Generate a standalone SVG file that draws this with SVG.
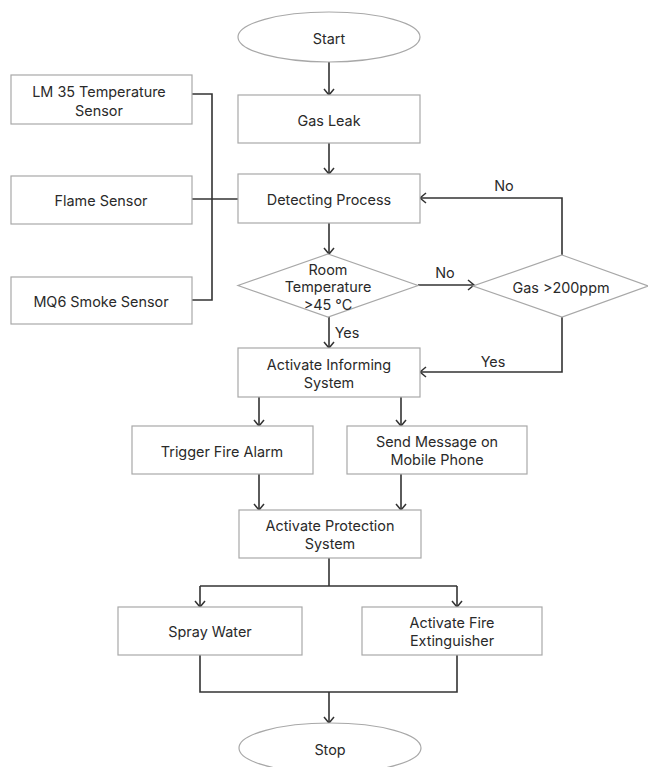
<svg xmlns="http://www.w3.org/2000/svg" width="648" height="767" viewBox="0 0 648 767">
<style>
.box{fill:#fff;stroke:#a8a8a8;stroke-width:1.2}
.t{font-family:Inter,"Liberation Sans",sans-serif;font-size:14.4px;fill:#2a2a2a;text-anchor:middle;dominant-baseline:central}
.c{fill:none;stroke:#333;stroke-width:1.6}
.a{marker-end:url(#arr)}
</style>
<defs>
<marker id="arr" markerWidth="12" markerHeight="12" refX="10" refY="6" orient="auto" markerUnits="userSpaceOnUse">
<path d="M4,1 L10,6 L4,11" fill="none" stroke="#333" stroke-width="1.5"/>
</marker>
</defs>
<rect width="648" height="767" fill="#fff"/>
<g id="connectors">
<path class="c a" d="M329,62 V95"/>
<path class="c a" d="M329,143 V174"/>
<path class="c" d="M192,94 H212 V300 H192"/>
<path class="c" d="M192,199 H238"/>
<path class="c a" d="M329,223 V254"/>
<path class="c a" d="M418,285 H474"/>
<path class="c a" d="M562,255 V198 H420"/>
<path class="c a" d="M329,317 V348"/>
<path class="c a" d="M562,317 V372 H420"/>
<path class="c a" d="M259,397 V426"/>
<path class="c a" d="M401,397 V426"/>
<path class="c a" d="M259,474 V510"/>
<path class="c a" d="M401,474 V510"/>
<path class="c" d="M329,558 V586"/>
<path class="c" d="M200,586 H457"/>
<path class="c a" d="M200,586 V607"/>
<path class="c a" d="M457,586 V607"/>
<path class="c" d="M200,655 V692 H457 V655"/>
<path class="c a" d="M329,692 V723"/>
<text class="t" x="445" y="272">No</text>
<text class="t" x="504" y="185">No</text>
<text class="t" x="347" y="332">Yes</text>
<text class="t" x="493" y="361">Yes</text>
</g>
<g id="start"><ellipse class="box" cx="329" cy="37" rx="91" ry="25"/><text class="t" x="329" y="38">Start</text></g>
<g id="gasleak"><rect class="box" x="238" y="95" width="182" height="48"/><text class="t" x="329" y="120">Gas Leak</text></g>
<g id="detect"><rect class="box" x="238" y="174" width="182" height="49"/><text class="t" x="329" y="199">Detecting Process</text></g>
<g id="lm35"><rect class="box" x="11" y="75" width="181" height="49"/><text class="t" x="99" y="91">LM 35 Temperature</text><text class="t" x="99" y="110">Sensor</text></g>
<g id="flame"><rect class="box" x="11" y="176" width="181" height="48"/><text class="t" x="101" y="200">Flame Sensor</text></g>
<g id="mq6"><rect class="box" x="11" y="277" width="181" height="47"/><text class="t" x="101" y="301">MQ6 Smoke Sensor</text></g>
<g id="roomtemp"><polygon class="box" points="328,254 418,285.5 328,317 238,285.5"/><text class="t" x="328" y="269">Room</text><text class="t" x="328" y="286.5">Temperature</text><text class="t" x="328" y="304">&gt;45 °C</text></g>
<g id="gas200"><polygon class="box" points="562,255 648,286 562,317 473,286"/><text class="t" x="561" y="287">Gas &gt;200ppm</text></g>
<g id="inform"><rect class="box" x="238" y="348" width="182" height="49"/><text class="t" x="329" y="364">Activate Informing</text><text class="t" x="329" y="382">System</text></g>
<g id="alarm"><rect class="box" x="132" y="426" width="181" height="48"/><text class="t" x="222" y="451">Trigger Fire Alarm</text></g>
<g id="message"><rect class="box" x="347" y="426" width="180" height="48"/><text class="t" x="437" y="441">Send Message on</text><text class="t" x="437" y="459">Mobile Phone</text></g>
<g id="protect"><rect class="box" x="239" y="510" width="182" height="48"/><text class="t" x="330" y="525">Activate Protection</text><text class="t" x="330" y="543">System</text></g>
<g id="spray"><rect class="box" x="118" y="607" width="184" height="48"/><text class="t" x="210" y="631">Spray Water</text></g>
<g id="extinguisher"><rect class="box" x="362" y="607" width="180" height="48"/><text class="t" x="452" y="622">Activate Fire</text><text class="t" x="452" y="640">Extinguisher</text></g>
<g id="stop"><ellipse class="box" cx="330" cy="748" rx="91" ry="25"/><text class="t" x="330" y="749">Stop</text></g>
</svg>
